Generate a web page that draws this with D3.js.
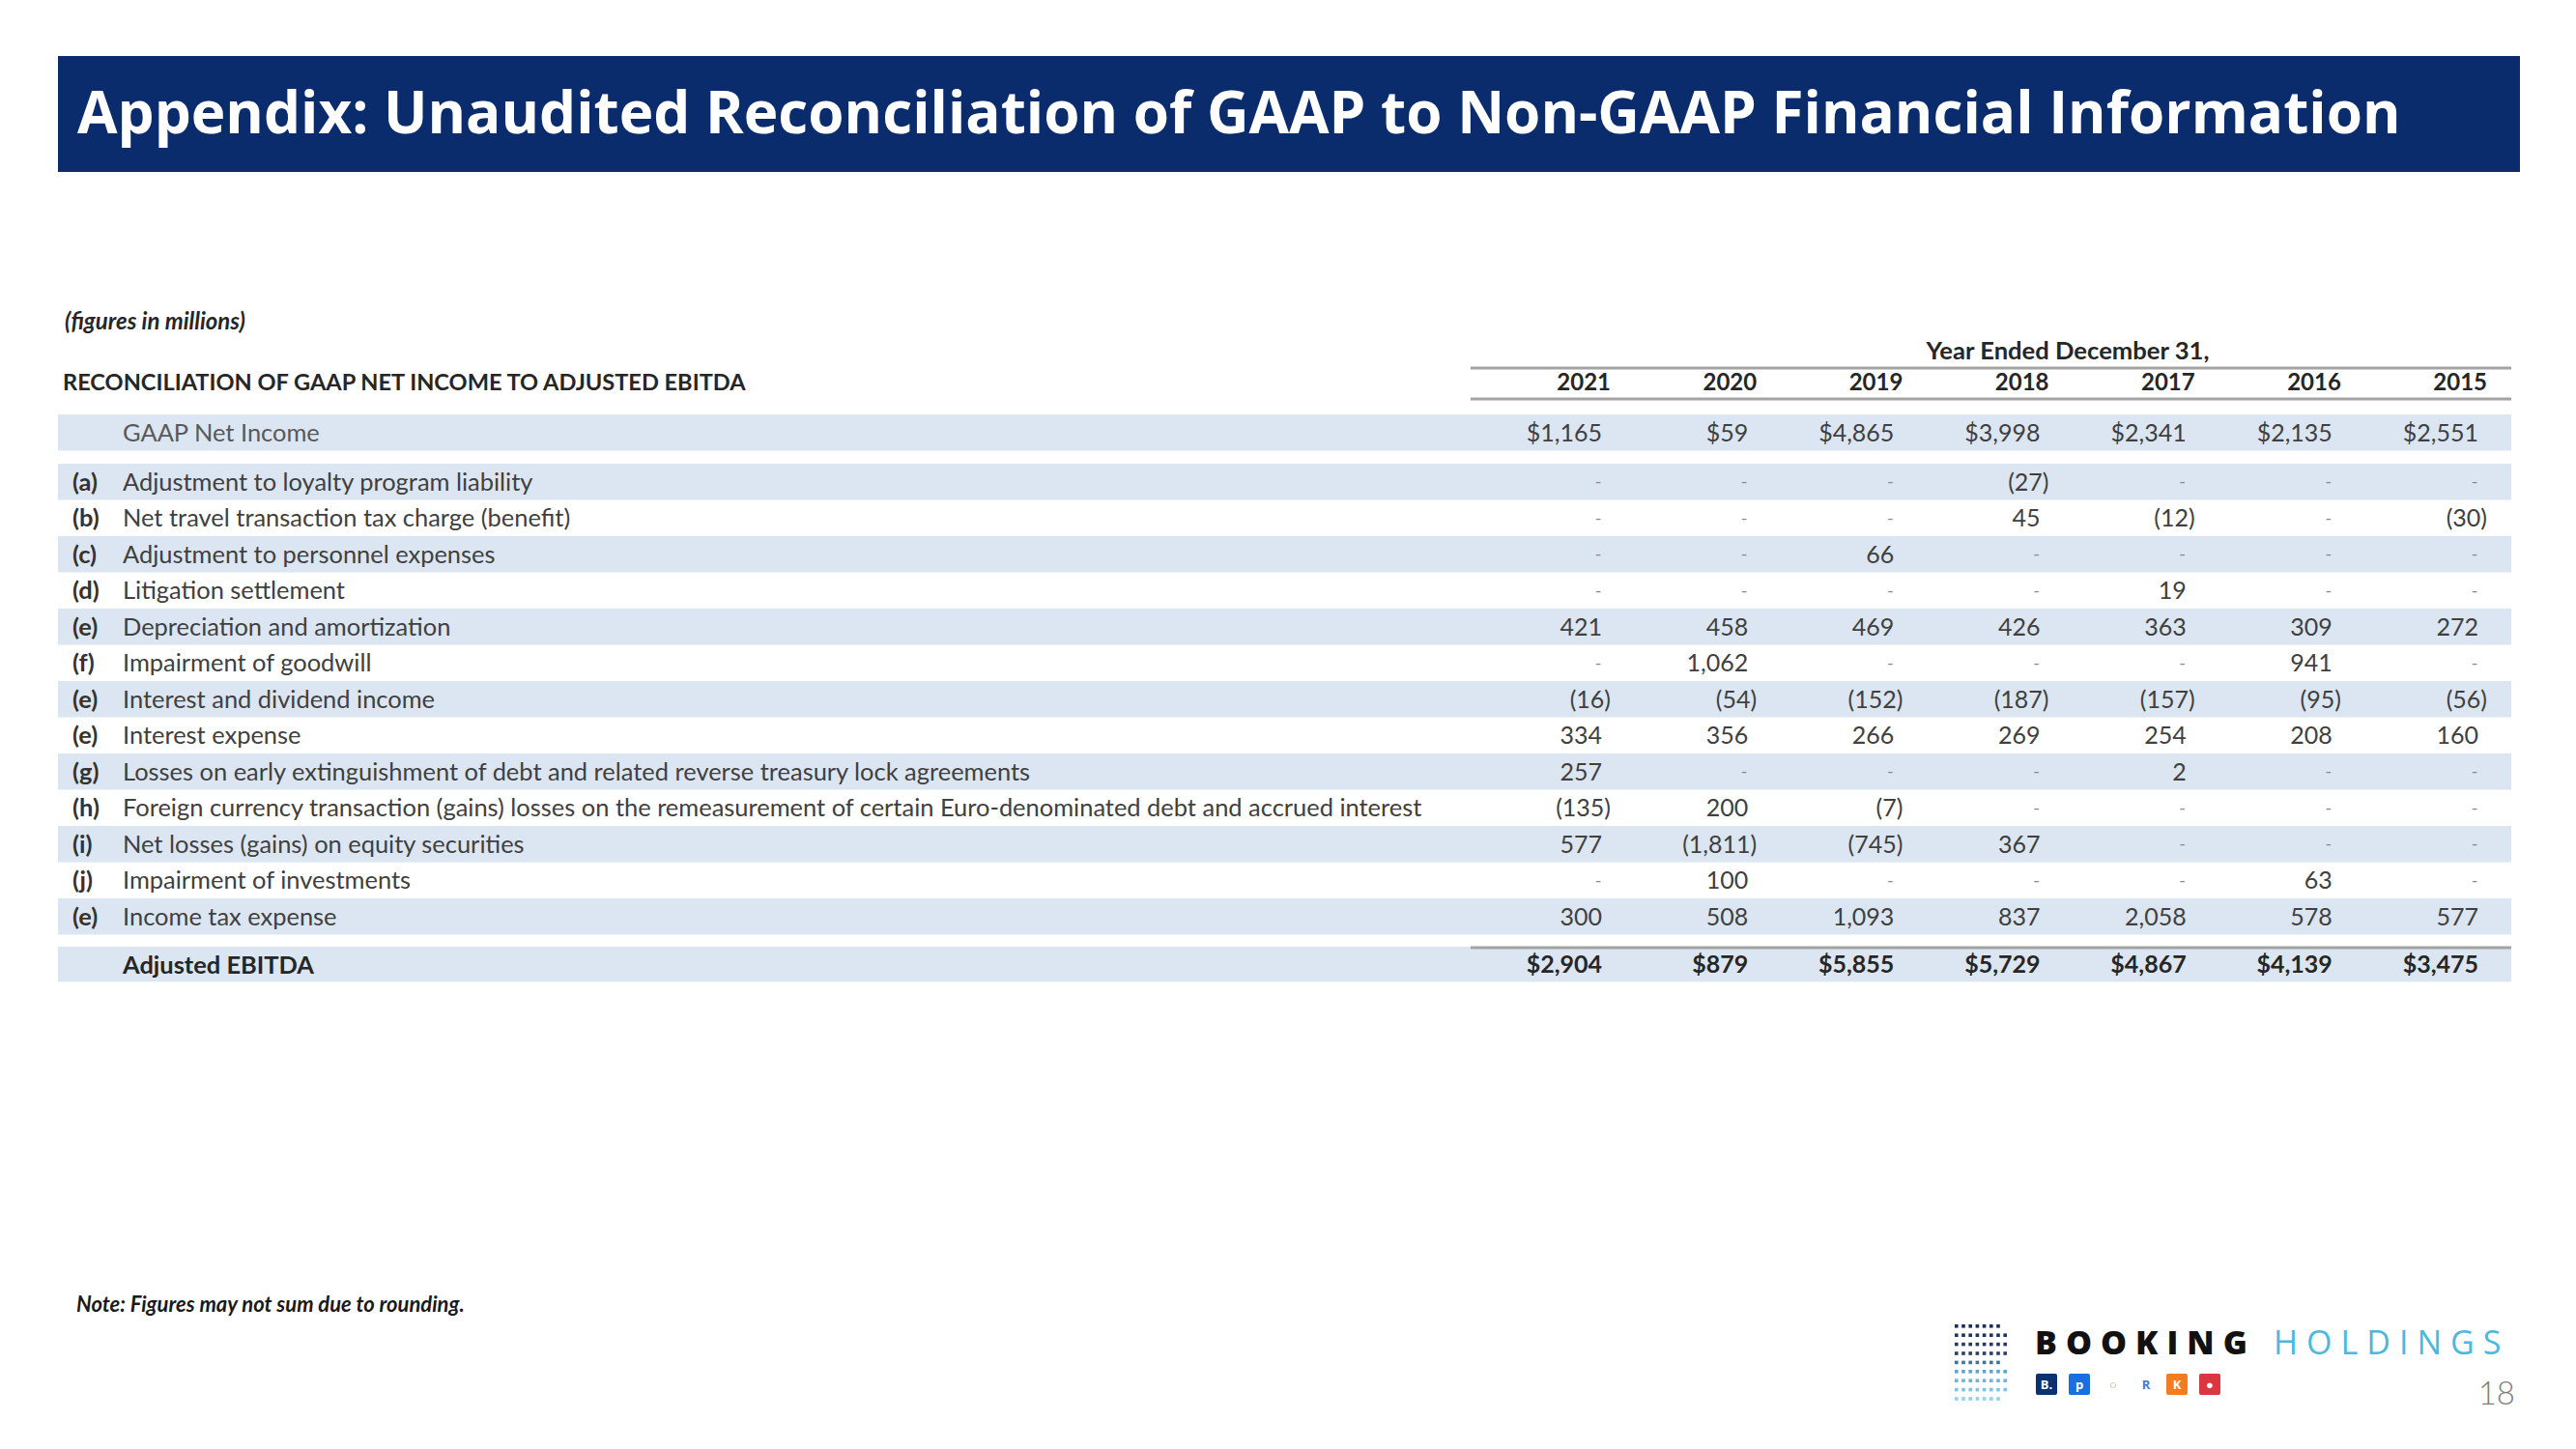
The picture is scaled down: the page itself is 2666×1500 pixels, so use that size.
<!DOCTYPE html>
<html><head><meta charset="utf-8">
<script src="https://cdn.jsdelivr.net/npm/d3@7"></script>
<style>html,body{margin:0;padding:0;background:#fff}svg{display:block}</style>
</head><body>
<svg id="c" width="2666" height="1500"></svg>
<script>
// ---------- DATA ----------
const years = ["2021", "2020", "2019", "2018", "2017", "2016", "2015"];
const gaapNetIncome = [1165, 59, 4865, 3998, 2341, 2135, 2551];
const adjLetters = ["(a)", "(b)", "(c)", "(d)", "(e)", "(f)", "(e)", "(e)", "(g)", "(h)", "(i)", "(j)", "(e)"];
const adjLabels = [
  "Adjustment to loyalty program liability",
  "Net travel transaction tax charge (benefit)",
  "Adjustment to personnel expenses",
  "Litigation settlement",
  "Depreciation and amortization",
  "Impairment of goodwill",
  "Interest and dividend income",
  "Interest expense",
  "Losses on early extinguishment of debt and related reverse treasury lock agreements",
  "Foreign currency transaction (gains) losses on the remeasurement of certain Euro-denominated debt and accrued interest",
  "Net losses (gains) on equity securities",
  "Impairment of investments",
  "Income tax expense"
];
const adjLoyalty      = [null, null, null, -27, null, null, null];
const adjTravelTax    = [null, null, null, 45, -12, null, -30];
const adjPersonnel    = [null, null, 66, null, null, null, null];
const adjLitigation   = [null, null, null, null, 19, null, null];
const adjDepreciation = [421, 458, 469, 426, 363, 309, 272];
const adjGoodwill     = [null, 1062, null, null, null, 941, null];
const adjInterestInc  = [-16, -54, -152, -187, -157, -95, -56];
const adjInterestExp  = [334, 356, 266, 269, 254, 208, 160];
const adjDebtLoss     = [257, null, null, null, 2, null, null];
const adjFx           = [-135, 200, -7, null, null, null, null];
const adjEquity       = [577, -1811, -745, 367, null, null, null];
const adjInvestments  = [null, 100, null, null, null, 63, null];
const adjIncomeTax    = [300, 508, 1093, 837, 2058, 578, 577];
const adjustedEbitda  = [2904, 879, 5855, 5729, 4867, 4139, 3475];
const adjValues = [adjLoyalty, adjTravelTax, adjPersonnel, adjLitigation, adjDepreciation, adjGoodwill,
  adjInterestInc, adjInterestExp, adjDebtLoss, adjFx, adjEquity, adjInvestments, adjIncomeTax];

const titleText = "Appendix: Unaudited Reconciliation of GAAP to Non-GAAP Financial Information";
const sectionText = "RECONCILIATION OF GAAP NET INCOME TO ADJUSTED EBITDA";

// ---------- LAYOUT ----------
const svg = d3.select("#c");
const BODY = "Lato, 'Open Sans', sans-serif";
const TITLE = "'Open Sans', sans-serif";
const navy = "#0A2B6C", band = "#DCE6F2", rule = "#A3A3A3", txt = "#404040";

function fitWidth(sel, target) {
  const w = sel.node().getComputedTextLength();
  const fs = parseFloat(sel.attr("font-size"));
  sel.attr("font-size", fs * target / w);
  return fs * target / w;
}

// Title bar
svg.append("rect").attr("x", 60).attr("y", 58).attr("width", 2548).attr("height", 120).attr("fill", navy);
const title = svg.append("text").attr("x", 80).attr("y", 138)
  .attr("font-family", TITLE).attr("font-weight", 700).attr("font-size", 60)
  .attr("fill", "#fff").text(titleText);
fitWidth(title, 2405);

// (figures in millions)
const fig = svg.append("text").attr("x", 67).attr("y", 333).attr("dy", "0.35em")
  .attr("font-family", BODY).attr("font-weight", 700).attr("font-style", "italic")
  .attr("font-size", 17).attr("fill", "#262626").text("(figures in millions)");
fitWidth(fig, 187);

// Section title
const sec = svg.append("text").attr("x", 65).attr("y", 396).attr("dy", "0.35em")
  .attr("font-family", BODY).attr("font-weight", 700).attr("font-size", 22)
  .attr("fill", "#262626").text(sectionText);
fitWidth(sec, 707);

// Scales
const x = d3.scalePoint().domain(years).range([1667, 2574]);
const rowIdx = d3.range(adjLabels.length);
const y = d3.scaleBand().domain(rowIdx).range([480, 480 + 37.5 * adjLabels.length]).padding(0);
const step = y.step();
const gaapY = y(0) - 1.36 * step;          // top of GAAP row band
const ebitdaY = y(adjLabels.length - 1) + 1.33 * step; // top of EBITDA band

const tableLeft = 60, tableRight = 2599, ruleLeft = 1522;

// Bands
svg.append("rect").attr("x", tableLeft).attr("y", gaapY).attr("width", tableRight - tableLeft).attr("height", step).attr("fill", band);
svg.append("g").selectAll("rect").data(rowIdx.filter(i => i % 2 === 0)).join("rect")
  .attr("x", tableLeft).attr("y", i => y(i)).attr("width", tableRight - tableLeft).attr("height", y.bandwidth())
  .attr("fill", band);
svg.append("rect").attr("x", tableLeft).attr("y", ebitdaY).attr("width", tableRight - tableLeft).attr("height", step - 1).attr("fill", band);

// Header
const ye = svg.append("text").attr("x", 2140).attr("y", 363).attr("dy", "0.35em").attr("text-anchor", "middle")
  .attr("font-family", BODY).attr("font-weight", 700).attr("font-size", 22).attr("fill", "#262626")
  .text("Year Ended December 31,");
fitWidth(ye, 293);
svg.append("line").attr("x1", ruleLeft).attr("x2", tableRight).attr("y1", 381).attr("y2", 381)
  .attr("stroke", rule).attr("stroke-width", 3);
svg.append("line").attr("x1", ruleLeft).attr("x2", tableRight).attr("y1", 413).attr("y2", 413)
  .attr("stroke", rule).attr("stroke-width", 3);
svg.append("g").selectAll("text").data(years).join("text")
  .attr("x", d => x(d)).attr("y", 396).attr("dy", "0.35em").attr("text-anchor", "end")
  .attr("font-family", BODY).attr("font-weight", 700).attr("font-size", 24).attr("fill", "#262626")
  .text(d => d);
// rule above Adjusted EBITDA
svg.append("line").attr("x1", ruleLeft).attr("x2", tableRight).attr("y1", ebitdaY + 1).attr("y2", ebitdaY + 1)
  .attr("stroke", rule).attr("stroke-width", 3);

// Labels
const labG = svg.append("g");
const gaapLab = labG.append("text").attr("x", 127).attr("y", gaapY + step / 2).attr("dy", "0.35em")
  .attr("font-family", BODY).attr("font-size", 22).attr("fill", "#595959").text("GAAP Net Income");
const letters = labG.append("g").selectAll("text").data(adjLetters).join("text")
  .attr("x", 75).attr("y", (d, i) => y(i) + step / 2).attr("dy", "0.35em")
  .attr("font-family", BODY).attr("font-weight", 700).attr("font-size", 22).attr("fill", "#333")
  .text(d => d);
const labs = labG.append("g").selectAll("text").data(adjLabels).join("text")
  .attr("x", 127).attr("y", (d, i) => y(i) + step / 2).attr("dy", "0.35em")
  .attr("font-family", BODY).attr("font-size", 22).attr("fill", txt)
  .text(d => d);
// fit label font so the longest label spans its measured width
const longest = labs.filter((d, i) => i === 9);
const labFs = fitWidth(longest, 1345);
labs.attr("font-size", labFs);
gaapLab.attr("font-size", labFs);
letters.attr("font-size", labFs);
const ebLab = labG.append("text").attr("x", 127).attr("y", ebitdaY + step / 2).attr("dy", "0.35em")
  .attr("font-family", BODY).attr("font-weight", 700).attr("font-size", labFs).attr("fill", "#262626")
  .text("Adjusted EBITDA");

// Values
const fmt = d3.format(",");
const NUMFS = 25;
function drawRow(vals, yc, opts) {
  const g = svg.append("g");
  vals.forEach((v, j) => {
    const cx = x(years[j]);
    if (v === null) {
      g.append("text").attr("x", cx - 13).attr("y", yc).attr("dy", "0.35em").attr("text-anchor", "middle")
        .attr("font-family", BODY).attr("font-size", 18).attr("fill", "#8a8a8a").text("-");
    } else {
      const s = (opts.dollar ? "$" : "") + fmt(Math.abs(v));
      const neg = v < 0;
      g.append("text").attr("x", neg ? cx : cx - 9).attr("y", yc).attr("dy", "0.35em").attr("text-anchor", "end")
        .attr("font-family", BODY).attr("font-weight", opts.bold ? 700 : 400).attr("font-size", NUMFS)
        .attr("fill", opts.bold ? "#262626" : txt)
        .text(neg ? "(" + s + ")" : s);
    }
  });
}
drawRow(gaapNetIncome, gaapY + step / 2, {dollar: true});
adjValues.forEach((vals, i) => drawRow(vals, y(i) + step / 2, {}));
drawRow(adjustedEbitda, ebitdaY + step / 2, {dollar: true, bold: true});

// Note
const note = svg.append("text").attr("x", 79).attr("y", 1350).attr("dy", "0.35em")
  .attr("font-family", BODY).attr("font-weight", 700).attr("font-style", "italic").attr("font-size", 18)
  .attr("fill", "#1a1a1a").text("Note: Figures may not sum due to rounding.");
fitWidth(note, 402);

// Logo: dot grid
const dotRows = [7, 8, 8, 8, 7, 8, 8, 8, 7];
const dotColor = d3.scaleLinear().domain([0, 3, 5, 8]).range(["#1b2f5c", "#2a3e66", "#5aa9d0", "#8fd3ec"]);
const lg = svg.append("g");
dotRows.forEach((n, r) => {
  d3.range(n).forEach(c => {
    lg.append("rect").attr("x", 2023 + c * 7.2).attr("y", 1371 + r * 9.4).attr("width", 3.6).attr("height", 3.6)
      .attr("fill", dotColor(r));
  });
});
svg.append("text").attr("x", 2106).attr("y", 1402).attr("font-family", TITLE).attr("font-weight", 800)
  .attr("font-size", 34).attr("letter-spacing", 9).attr("fill", "#111").text("BOOKING");
svg.append("text").attr("x", 2353).attr("y", 1402).attr("font-family", TITLE).attr("font-weight", 400)
  .attr("font-size", 34).attr("letter-spacing", 9).attr("fill", "#4DB8DE").text("HOLDINGS");
// brand squares
const brands = [
  {x: 2107, fill: "#0B3170", t: "B.", tc: "#fff"},
  {x: 2141, fill: "#1a6fe0", t: "p", tc: "#fff"},
  {x: 2176, fill: "#ffffff", t: "○", tc: "#999"},
  {x: 2210, fill: "#ffffff", t: "R", tc: "#3a7bd5"},
  {x: 2242, fill: "#F47B20", t: "K", tc: "#fff"},
  {x: 2276, fill: "#DA3743", t: "●", tc: "#fff"}
];
brands.forEach(b => {
  svg.append("rect").attr("x", b.x).attr("y", 1422).attr("width", 22).attr("height", 22).attr("rx", 2).attr("fill", b.fill);
  svg.append("text").attr("x", b.x + 11).attr("y", 1433).attr("dy", "0.35em").attr("text-anchor", "middle")
    .attr("font-family", TITLE).attr("font-weight", 700).attr("font-size", 13).attr("fill", b.tc).text(b.t);
});
svg.append("text").attr("x", 2603).attr("y", 1442).attr("dy", "0.35em").attr("text-anchor", "end")
  .attr("font-family", BODY).attr("font-weight", 300).attr("font-size", 33).attr("fill", "#7f7f7f").text("18");
</script>
</body></html>
